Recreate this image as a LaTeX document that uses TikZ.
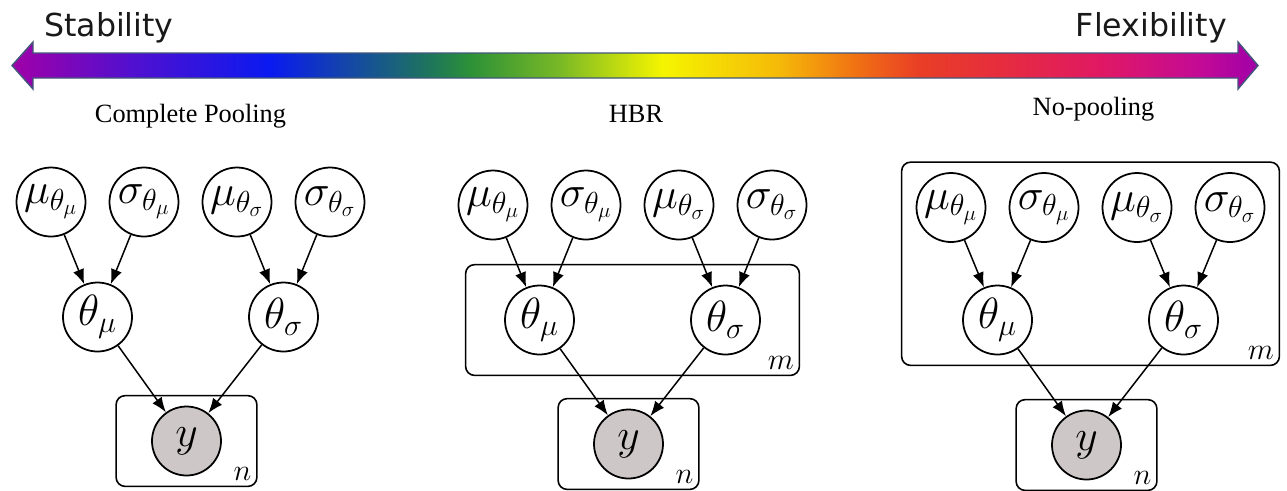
\documentclass[tikz,border=0pt]{standalone}
\usepackage[no-math]{fontspec}
\setmainfont{Liberation Serif}
\newfontfamily\barfont{DejaVu Sans}
\usepackage{tikz}
\usetikzlibrary{positioning, arrows.meta, fit}

\definecolor{barline}{RGB}{65,88,122}
\definecolor{obsgray}{RGB}{206,199,199}
\definecolor{barA}{RGB}{160,0,168}
\definecolor{barB}{RGB}{80,16,208}
\definecolor{barC}{RGB}{10,26,240}
\definecolor{barD}{RGB}{30,118,90}
\definecolor{barE}{RGB}{45,145,55}
\definecolor{barF}{RGB}{122,185,38}
\definecolor{barG}{RGB}{245,245,0}
\definecolor{barH}{RGB}{245,185,8}
\definecolor{barI}{RGB}{240,110,20}
\definecolor{barJ}{RGB}{233,62,38}
\definecolor{barK}{RGB}{230,45,62}
\definecolor{barL}{RGB}{224,24,100}
\definecolor{barM}{RGB}{195,10,150}
\pgfdeclarehorizontalshading{rainbowbar}{100bp}{color(0bp)=(barA); color(25bp)=(barA);
  color(29.9bp)=(barB); color(35.35bp)=(barC); color(41.8bp)=(barD); color(43.4bp)=(barE);
  color(47bp)=(barF); color(51.1bp)=(barG); color(55.8bp)=(barH); color(59bp)=(barI);
  color(61.4bp)=(barJ); color(64.6bp)=(barK); color(68.7bp)=(barL); color(72.7bp)=(barM);
  color(75bp)=(barA); color(100bp)=(barA)}

\begin{document}
\begin{tikzpicture}[
        node distance=2.3cm and 1.86cm, on grid,
        latent/.style={draw, circle, minimum size=1.38cm, inner sep=0pt, line width=1pt, font=\fontsize{24}{28}\selectfont},
        obs/.style={latent, fill=obsgray},
        plate/.style={draw, rectangle, rounded corners=0.18cm, line width=0.9pt},
        platelabel/.style={anchor=south east, inner sep=0.12cm, font=\fontsize{17}{20}\selectfont},
        arrow/.style={-{Latex[length=8.5pt, width=6.5pt]}, line width=0.85pt},
        title/.style={anchor=base, font=\fontsize{15}{18}\selectfont},
        endlabel/.style={font=\barfont\fontsize{18}{22}\selectfont, text=black!90}
    ]
    \useasboundingbox (0,0) rectangle (25.74,-9.8);

    % --- TOP: Stability <-> Flexibility ---
    \shade[shading=rainbowbar, draw=barline, line width=0.8pt]
        (0.24,-1.31) -- (0.66,-0.84) -- (0.66,-1.06) -- (24.76,-1.06) -- (24.76,-0.84) -- (25.16,-1.31)
        -- (24.76,-1.78) -- (24.76,-1.56) -- (0.66,-1.56) -- (0.66,-1.78) -- cycle;
    \node[endlabel, anchor=base west] (stab) at (0.76,-0.72) {Stability};
    \node[endlabel, anchor=base east] (flex) at (24.66,-0.72) {Flexibility};

    % --- LEFT: Complete Pooling ---
    \node[title] (cp_title) at (3.81,-2.44) {Complete Pooling};
    \node[latent] (mumu1) at (1.02,-4.04) {$\mu_{\theta_\mu}$};
    \node[latent, right=of mumu1] (sigmu1) {$\sigma_{\theta_\mu}$};
    \node[latent, right=of sigmu1] (musig1) {$\mu_{\theta_\sigma}$};
    \node[latent, right=of musig1] (sigsig1) {$\sigma_{\theta_\sigma}$};
    \node[latent, below right=2.3cm and 0.93cm of mumu1] (thmu1) {$\theta_\mu$};
    \node[latent, below right=2.3cm and 0.93cm of musig1] (thsig1) {$\theta_\sigma$};
    \node[obs, below right=2.48cm and 1.78cm of thmu1] (y1) {$y$};
    \node[plate, fit=(y1), inner xsep=0.7cm, inner ysep=0.2cm] (platen1) {};
    \node[platelabel] (labn1) at (platen1.south east) {$n$};
    \draw[arrow] (mumu1) -- (thmu1);
    \draw[arrow] (sigmu1) -- (thmu1);
    \draw[arrow] (musig1) -- (thsig1);
    \draw[arrow] (sigsig1) -- (thsig1);
    \draw[arrow] (thmu1) -- (y1);
    \draw[arrow] (thsig1) -- (y1);

    % --- MIDDLE: HBR ---
    \node[title] (hbr_title) at (12.72,-2.44) {HBR};
    \node[latent] (mumu2) at (9.86,-4.10) {$\mu_{\theta_\mu}$};
    \node[latent, right=of mumu2] (sigmu2) {$\sigma_{\theta_\mu}$};
    \node[latent, right=of sigmu2] (musig2) {$\mu_{\theta_\sigma}$};
    \node[latent, right=of musig2] (sigsig2) {$\sigma_{\theta_\sigma}$};
    \node[latent, below right=2.3cm and 0.93cm of mumu2] (thmu2) {$\theta_\mu$};
    \node[latent, below right=2.3cm and 0.93cm of musig2] (thsig2) {$\theta_\sigma$};
    \node[obs, below right=2.48cm and 1.78cm of thmu2] (y2) {$y$};
    \node[plate, fit=(thmu2) (thsig2), inner xsep=0.77cm, inner ysep=0.4cm] (platem2) {};
    \node[platelabel] (labm2) at (platem2.south east) {$m$};
    \node[plate, fit=(y2), inner xsep=0.7cm, inner ysep=0.2cm] (platen2) {};
    \node[platelabel] (labn2) at (platen2.south east) {$n$};
    \draw[arrow] (mumu2) -- (thmu2);
    \draw[arrow] (sigmu2) -- (thmu2);
    \draw[arrow] (musig2) -- (thsig2);
    \draw[arrow] (sigsig2) -- (thsig2);
    \draw[arrow] (thmu2) -- (y2);
    \draw[arrow] (thsig2) -- (y2);

    % --- RIGHT: No-pooling ---
    \node[title] (np_title) at (21.87,-2.30) {No-pooling};
    \node[latent] (mumu3) at (19.02,-4.15) {$\mu_{\theta_\mu}$};
    \node[latent, right=of mumu3] (sigmu3) {$\sigma_{\theta_\mu}$};
    \node[latent, right=of sigmu3] (musig3) {$\mu_{\theta_\sigma}$};
    \node[latent, right=of musig3] (sigsig3) {$\sigma_{\theta_\sigma}$};
    \node[latent, below right=2.25cm and 0.93cm of mumu3] (thmu3) {$\theta_\mu$};
    \node[latent, below right=2.25cm and 0.93cm of musig3] (thsig3) {$\theta_\sigma$};
    \node[obs, below right=2.5cm and 1.78cm of thmu3] (y3) {$y$};
    \node[plate, fit=(mumu3) (sigsig3) (thmu3) (thsig3), inner xsep=0.28cm, inner ysep=0.2cm] (platem3) {};
    \node[platelabel] (labm3) at (platem3.south east) {$m$};
    \node[plate, fit=(y3), inner xsep=0.7cm, inner ysep=0.2cm] (platen3) {};
    \node[platelabel] (labn3) at (platen3.south east) {$n$};
    \draw[arrow] (mumu3) -- (thmu3);
    \draw[arrow] (sigmu3) -- (thmu3);
    \draw[arrow] (musig3) -- (thsig3);
    \draw[arrow] (sigsig3) -- (thsig3);
    \draw[arrow] (thmu3) -- (y3);
    \draw[arrow] (thsig3) -- (y3);
\end{tikzpicture}
\end{document}
